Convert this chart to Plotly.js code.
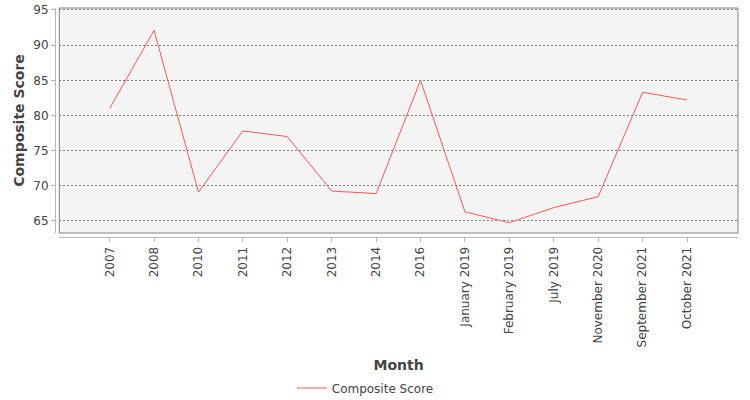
<!DOCTYPE html>
<html>
<head>
<meta charset="utf-8">
<script src="https://cdn.plot.ly/plotly-3.0.1.min.js"></script>
<style>
  body { margin: 0; background: #fff; }
  #chart { width: 750px; height: 400px; }
</style>
</head>
<body>
<div id="chart"></div>
<script>
var months = ['2007', '2008', '2010', '2011', '2012', '2013', '2014', '2016',
  'January 2019', 'February 2019', 'July 2019', 'November 2020',
  'September 2021', 'October 2021'];
var composite_score = [81.0, 92.1, 69.1, 77.8, 77.0, 69.25, 68.9, 85.0,
  66.3, 64.75, 66.9, 68.45, 83.3, 82.2];
var y_ticks = [65, 70, 75, 80, 85, 90, 95];

var font_family = 'DejaVu Sans, sans-serif';
var text_color = '#444444';

var trace1 = {
  x: months.map((m, i) => i),
  y: composite_score,
  mode: 'lines',
  type: 'scatter',
  name: 'Composite Score',
  line: {color: '#ff5555', width: 1},
  hoverinfo: 'none'
};

var layout = {
  width: 750, height: 400,
  margin: {l: 55, r: 12, t: 8, b: 163, autoexpand: false},
  paper_bgcolor: '#ffffff',
  plot_bgcolor: '#f4f4f4',
  font: {family: font_family, size: 12, color: text_color},
  showlegend: true,
  legend: {
    orientation: 'h',
    xref: 'container', yref: 'container',
    x: 0.389, xanchor: 'left',
    y: 0.03, yanchor: 'middle',
    font: {family: font_family, size: 12, color: text_color},
    bgcolor: 'rgba(0,0,0,0)'
  },
  xaxis: {
    domain: [0.0063, 1],
    range: [-1.134, 14.148],
    tickmode: 'array',
    tickvals: months.map((m, i) => i),
    ticktext: months,
    tickangle: -90,
    ticks: 'outside', ticklen: 4, tickcolor: '#b8b8b8',
    showline: true, linecolor: '#b8b8b8', linewidth: 1,
    showgrid: false, zeroline: false,
    anchor: 'free', position: 0,
    automargin: false,
    tickfont: {family: font_family, size: 12, color: text_color},
    title: {text: 'Month', font: {family: font_family, size: 14, color: text_color, weight: 'bold'}, standoff: 14}
  },
  yaxis: {
    domain: [0.0175, 1],
    range: [63.29, 95.28],
    tickmode: 'array',
    tickvals: y_ticks,
    ticks: 'outside', ticklen: 4, tickcolor: '#b8b8b8',
    showline: true, linecolor: '#b8b8b8', linewidth: 1,
    showgrid: true, gridcolor: '#808080', gridwidth: 1, griddash: '2px,2px',
    zeroline: false,
    anchor: 'free', position: 0,
    automargin: false,
    tickfont: {family: font_family, size: 12, color: text_color},
    title: {text: 'Composite Score', font: {family: font_family, size: 14, color: text_color, weight: 'bold'}, standoff: 4}
  },
  shapes: [{
    type: 'rect', xref: 'x domain', yref: 'y domain',
    x0: 0, x1: 1, y0: 0, y1: 1,
    line: {color: '#808080', width: 1}
  }]
};

Plotly.newPlot('chart', [trace1], layout, {staticPlot: true});
</script>
</body>
</html>
